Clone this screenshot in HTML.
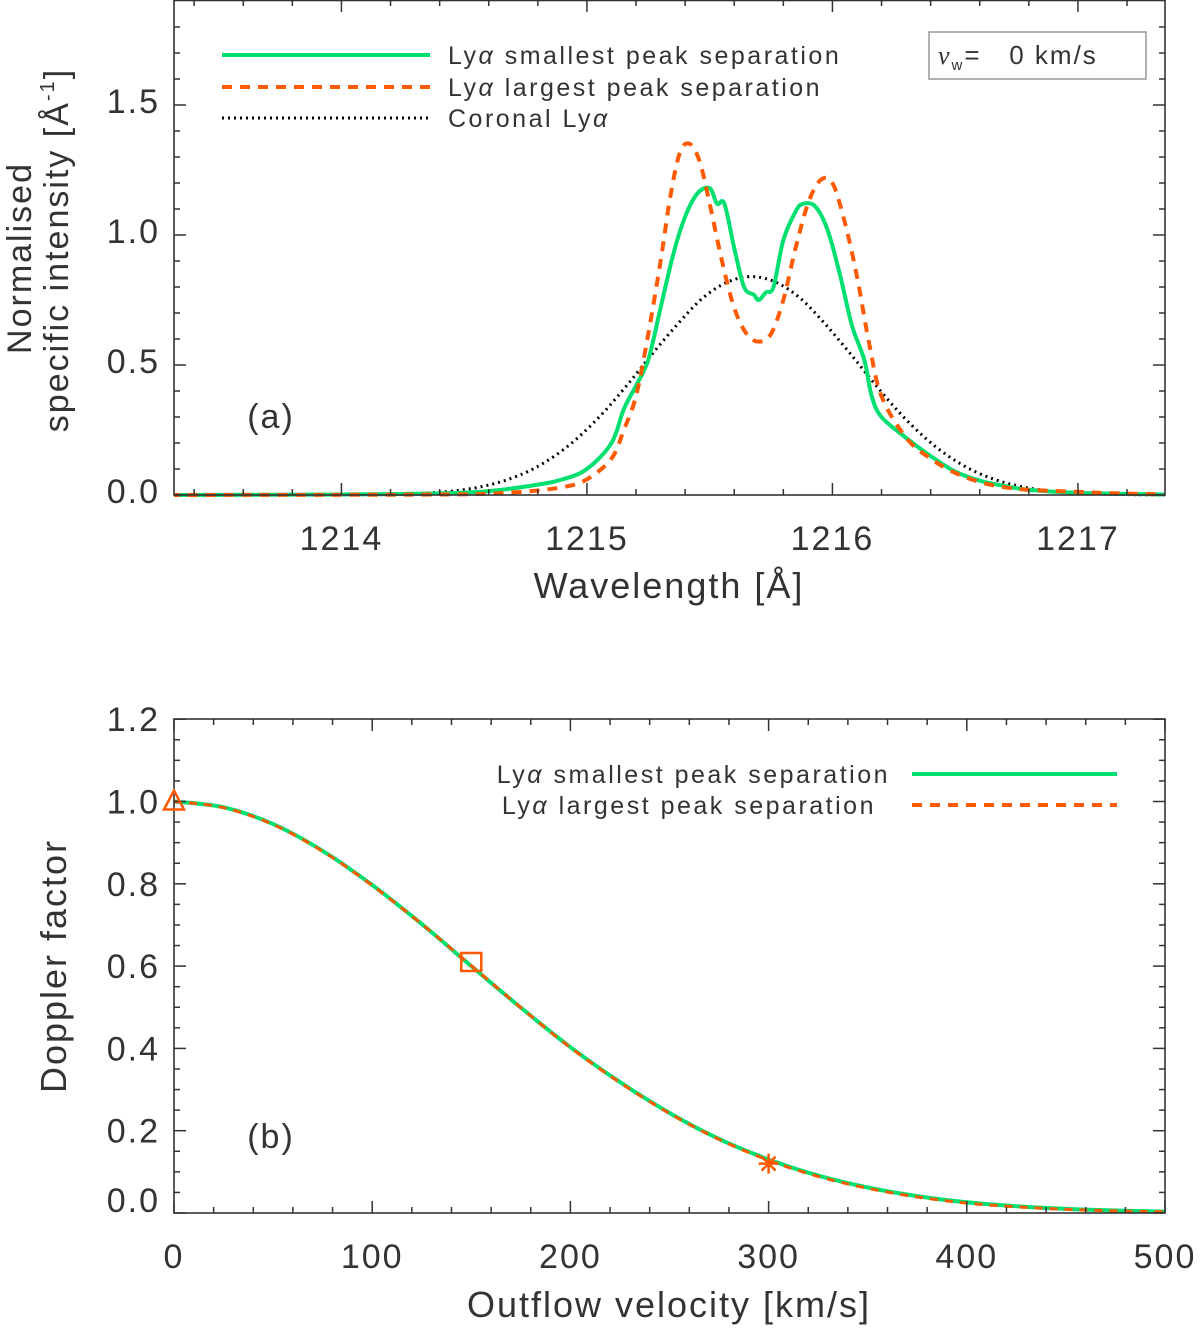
<!DOCTYPE html>
<html><head><meta charset="utf-8"><style>
html,body{margin:0;padding:0;background:#fff;}
svg{display:block;font-family:"Liberation Sans",sans-serif;}
text{fill:#333;}
</style></head><body>
<svg id="fig" width="1200" height="1328" viewBox="0 0 1200 1328">
<defs><clipPath id="clipA"><rect x="174" y="0" width="991" height="500"/></clipPath></defs>
</svg>
<script>
// ---- Panel (a) data ----
const greenLam = [1213.3,1214.0,1214.4,1214.6,1214.8,1214.9,1215.0,1215.1,1215.15,1215.2,1215.25,1215.3,1215.35,1215.4,1215.45,1215.5,1215.53,1215.56,1215.6,1215.64,1215.68,1215.7,1215.73,1215.76,1215.8,1215.85,1215.88,1215.93,1215.98,1216.03,1216.08,1216.13,1216.16,1216.2,1216.3,1216.4,1216.5,1216.6,1216.7,1216.8,1217.0,1217.35];
const greenVal = [0,0.002,0.006,0.015,0.04,0.06,0.1,0.2,0.33,0.42,0.52,0.72,0.92,1.07,1.16,1.18,1.12,1.12,0.95,0.8,0.77,0.75,0.78,0.80,0.98,1.09,1.12,1.11,1.02,0.85,0.65,0.52,0.38,0.3,0.22,0.15,0.09,0.055,0.035,0.02,0.008,0.002];
const orangeLam = [1213.3,1214.4,1214.7,1214.9,1215.0,1215.1,1215.15,1215.2,1215.25,1215.3,1215.34,1215.38,1215.42,1215.46,1215.5,1215.55,1215.6,1215.65,1215.7,1215.75,1215.8,1215.85,1215.9,1215.95,1216.0,1216.05,1216.1,1216.15,1216.2,1216.3,1216.4,1216.5,1216.6,1216.7,1216.8,1217.0,1217.1,1217.35];
const orangeVal = [0,0.002,0.01,0.03,0.06,0.14,0.25,0.38,0.62,0.90,1.15,1.32,1.35,1.28,1.12,0.90,0.72,0.62,0.59,0.62,0.75,0.95,1.12,1.21,1.20,1.05,0.84,0.58,0.38,0.22,0.14,0.085,0.05,0.03,0.02,0.012,0.008,0.002];
const coronaLam = [1213.3,1214.07,1214.17,1214.27,1214.37,1214.47,1214.57,1214.67,1214.77,1214.87,1214.97,1215.07,1215.17,1215.27,1215.37,1215.47,1215.57,1215.67,1215.77,1215.87,1215.97,1216.07,1216.17,1216.27,1216.37,1216.47,1216.57,1216.67,1216.77,1216.87,1216.97,1217.07,1217.17,1217.27,1217.37,1217.47,1217.6];
const coronaVal = [0,0.0009,0.002,0.0042,0.0087,0.017,0.032,0.057,0.095,0.151,0.226,0.32,0.43,0.547,0.658,0.756,0.818,0.84,0.818,0.756,0.658,0.547,0.43,0.32,0.226,0.151,0.095,0.057,0.032,0.017,0.0087,0.0042,0.002,0.0009,0.0004,0.0001,0];
const aXTicks = [1214,1215,1216,1217];
const aYTicks = [0.0,0.5,1.0,1.5];
const aYLabels = ["0.0","0.5","1.0","1.5"];
// ---- Panel (b) data ----
const vel = [0,25,50,75,100,125,150,175,200,225,250,275,300,325,350,375,400,425,450,475,500];
const dopSmall = [1.0,0.986,0.945,0.880,0.797,0.702,0.600,0.499,0.403,0.318,0.243,0.180,0.130,0.091,0.062,0.041,0.026,0.0165,0.010,0.006,0.0035];
const dopLarge = [1.0,0.985,0.944,0.879,0.796,0.702,0.601,0.499,0.402,0.317,0.242,0.179,0.128,0.089,0.060,0.039,0.024,0.015,0.009,0.005,0.003];
const markV = [0,150,300];
const markD = [1.0,0.61,0.12];
const bXTicks = [0,100,200,300,400,500];
const bYTicks = [0,0.2,0.4,0.6,0.8,1.0,1.2];
const bYLabels = ["0.0","0.2","0.4","0.6","0.8","1.0","1.2"];

const NS="http://www.w3.org/2000/svg";
const svg=document.getElementById('fig');
function mk(tag,attrs,parent){const e=document.createElementNS(NS,tag);for(const k in attrs)e.setAttribute(k,attrs[k]);(parent||svg).appendChild(e);return e;}
function txt(s,x,y,size,anchor,parent){const t=mk('text',{x:x,y:y,'font-size':size,'text-anchor':anchor||'middle','letter-spacing':'2'},parent);t.textContent=s;return t;}

const L=174,R=1165;
const ax=l=>L+(l-1213.318)*245.5;
const ay=v=>495-v*260;
const bx=v=>L+v*(R-L)/500;
const by=d=>1213-d*411.5;

// smooth path through points (Catmull-Rom)
function path(xs,ys,fx,fy){
  const P=xs.map((x,i)=>[fx(x),fy(ys[i])]);
  let d='M'+P[0][0].toFixed(1)+','+P[0][1].toFixed(1);
  for(let i=0;i<P.length-1;i++){
    const p0=P[Math.max(i-1,0)],p1=P[i],p2=P[i+1],p3=P[Math.min(i+2,P.length-1)];
    const c1=[p1[0]+(p2[0]-p0[0])/6,p1[1]+(p2[1]-p0[1])/6];
    const c2=[p2[0]-(p3[0]-p1[0])/6,p2[1]-(p3[1]-p1[1])/6];
    d+='C'+c1[0].toFixed(1)+','+c1[1].toFixed(1)+' '+c2[0].toFixed(1)+','+c2[1].toFixed(1)+' '+p2[0].toFixed(1)+','+p2[1].toFixed(1);
  }
  return d;
}

// ---------- Panel A ----------
const gA=mk('g',{});


const cA=mk('g',{'clip-path':'url(#clipA)'},gA);
let p=mk('path',{d:path(coronaLam,coronaVal,ax,ay),fill:'none',stroke:'#000','stroke-width':3,'stroke-dasharray':'2 4'},cA);

p=mk('path',{d:path(greenLam,greenVal,ax,ay),fill:'none',stroke:'#00e070','stroke-width':4,'stroke-linejoin':'round'},cA);

p=mk('path',{d:path(orangeLam,orangeVal,ax,ay),fill:'none',stroke:'#ff5a00','stroke-width':4,'stroke-dasharray':'10 8'},cA);

let fr=mk('rect',{x:L,y:0.5,width:R-L,height:494.5,fill:'none',stroke:'#333','stroke-width':1.6},gA);

for(let v=0;v<=1.9;v+=0.1){const y=ay(v);const maj=Math.abs(v*2-Math.round(v*2))<1e-6;const len=maj?12:6;
 mk('line',{x1:L,x2:L+len,y1:y,y2:y,stroke:'#333','stroke-width':1.5},gA);mk('line',{x1:R,x2:R-len,y1:y,y2:y,stroke:'#333','stroke-width':1.5},gA);}
for(let l=1213.4;l<=1217.35;l+=0.2){const x=ax(l);const maj=Math.abs(l-Math.round(l))<1e-6;const len=maj?12:6;
 mk('line',{x1:x,x2:x,y1:495,y2:495-len,stroke:'#333','stroke-width':1.5},gA);mk('line',{x1:x,x2:x,y1:0,y2:len,stroke:'#333','stroke-width':1.5},gA);}
aYTicks.forEach((v,i)=>{const t=txt(aYLabels[i],160,ay(v)+8,34,'end',gA);});
aXTicks.forEach(v=>{const t=txt(String(v),ax(v),550,34,'middle',gA);});
let t=txt('Wavelength [Å]',669,598,36,'middle',gA);
t=txt('Normalised',0,0,34,'middle',gA);t.setAttribute('transform','translate(31,258) rotate(-90)');
t=mk('text',{transform:'translate(68,250) rotate(-90)','font-size':34,'text-anchor':'middle','letter-spacing':'2'},gA);
t.innerHTML='specific intensity [Å<tspan font-size="20" dy="-14">-1</tspan><tspan dy="14">]</tspan>';

t=txt('(a)',271,428,34,'middle',gA);
const lgA=mk('g',{},gA);
mk('line',{x1:222,x2:430,y1:55,y2:55,stroke:'#00e070','stroke-width':4},lgA);
mk('line',{x1:222,x2:430,y1:87,y2:87,stroke:'#ff5a00','stroke-width':4,'stroke-dasharray':'10 8'},lgA);
mk('line',{x1:222,x2:430,y1:118,y2:118,stroke:'#000','stroke-width':3,'stroke-dasharray':'2 4'},lgA);
t=mk('text',{x:448,y:64,'font-size':25,'letter-spacing':'2.5'},lgA);t.innerHTML='Ly<tspan font-style="italic">α</tspan> smallest peak separation';
t=mk('text',{x:448,y:96,'font-size':25,'letter-spacing':'2.5'},lgA);t.innerHTML='Ly<tspan font-style="italic">α</tspan> largest peak separation';
t=mk('text',{x:448,y:127,'font-size':25,'letter-spacing':'2.5'},lgA);t.innerHTML='Coronal Ly<tspan font-style="italic">α</tspan>';
const vb=mk('g',{},gA);
mk('rect',{x:929,y:32,width:217,height:47,fill:'#fff',stroke:'#999','stroke-width':1.5},vb);
t=mk('text',{x:938,y:64,'font-size':26,'letter-spacing':'2'},vb);t.innerHTML='<tspan font-family="Liberation Serif" font-style="italic">v</tspan><tspan font-size="15" dy="6">w</tspan><tspan dy="-6">=&#160;&#160;&#160;0 km/s</tspan>';

// ---------- Panel B ----------
const gB=mk('g',{});
p=mk('path',{d:path(vel,dopSmall,bx,by),fill:'none',stroke:'#00e070','stroke-width':4},gB);

p=mk('path',{d:path(vel,dopLarge,bx,by),fill:'none',stroke:'#ff5a00','stroke-width':3,'stroke-dasharray':'8 7'},gB);

fr=mk('rect',{x:L,y:719,width:R-L,height:494,fill:'none',stroke:'#333','stroke-width':1.6},gB);

for(let i=0;i<=24;i++){const d=i*0.05;const y=by(d);const len=(i%4===0)?12:6;
 mk('line',{x1:L,x2:L+len,y1:y,y2:y,stroke:'#333','stroke-width':1.5},gB);mk('line',{x1:R,x2:R-len,y1:y,y2:y,stroke:'#333','stroke-width':1.5},gB);}
for(let v=0;v<=500;v+=20){const x=bx(v);const len=(v%100===0)?12:6;
 mk('line',{x1:x,x2:x,y1:1213,y2:1213-len,stroke:'#333','stroke-width':1.5},gB);mk('line',{x1:x,x2:x,y1:719,y2:719+len,stroke:'#333','stroke-width':1.5},gB);}
bYTicks.forEach((v,i)=>{const t=txt(bYLabels[i],160,Math.min(by(v)+12,1212),34,'end',gB);});
bXTicks.forEach(v=>{const t=txt(String(v),bx(v),1268,34,'middle',gB);});
t=txt('Outflow velocity [km/s]',669,1317,36,'middle',gB);
t=txt('Doppler factor',0,0,36,'middle',gB);t.setAttribute('transform','translate(66,966) rotate(-90)');
t=txt('(b)',271,1148,34,'middle',gB);
const m0=mk('polygon',{points:`${bx(markV[0])},${by(markD[0])-11} ${bx(markV[0])-10},${by(markD[0])+8} ${bx(markV[0])+10},${by(markD[0])+8}`,fill:'none',stroke:'#ff5a00','stroke-width':2.5},gB);

const m1=mk('rect',{x:bx(markV[1])-10,y:by(markD[1])-9,width:20,height:18,fill:'none',stroke:'#ff5a00','stroke-width':2.5},gB);

const m2=mk('g',{stroke:'#ff5a00','stroke-width':2.5},gB);

{const cx=bx(markV[2]),cy=by(markD[2]);mk('line',{x1:cx-10,x2:cx+10,y1:cy,y2:cy},m2);mk('line',{x1:cx,x2:cx,y1:cy-10,y2:cy+10},m2);mk('line',{x1:cx-7,x2:cx+7,y1:cy-7,y2:cy+7},m2);mk('line',{x1:cx-7,x2:cx+7,y1:cy+7,y2:cy-7},m2);}
const lgB=mk('g',{},gB);
mk('line',{x1:912,x2:1117,y1:774,y2:774,stroke:'#00e070','stroke-width':4},lgB);
mk('line',{x1:912,x2:1117,y1:805,y2:805,stroke:'#ff5a00','stroke-width':4,'stroke-dasharray':'10 8'},lgB);
t=mk('text',{x:890,y:783,'font-size':25,'letter-spacing':'2.5','text-anchor':'end'},lgB);t.innerHTML='Ly<tspan font-style="italic">α</tspan> smallest peak separation';
t=mk('text',{x:876,y:814,'font-size':25,'letter-spacing':'2.5','text-anchor':'end'},lgB);t.innerHTML='Ly<tspan font-style="italic">α</tspan> largest peak separation';
</script>
</body></html>
